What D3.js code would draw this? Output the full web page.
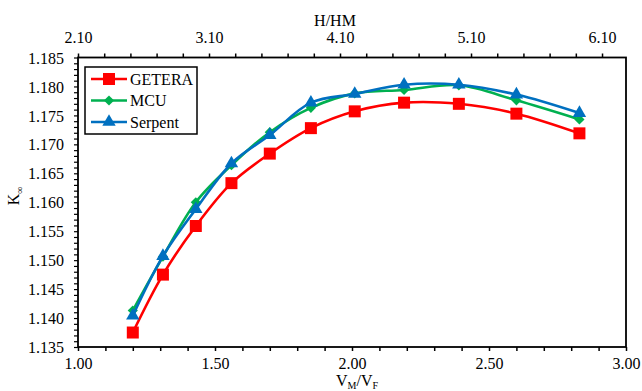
<!DOCTYPE html>
<html>
<head>
<meta charset="utf-8">
<script src="https://cdn.jsdelivr.net/npm/d3@7"></script>
<style>
  body { margin: 0; background: #fff; }
</style>
</head>
<body>
<svg id="chart" width="642" height="391"></svg>
<script>
// data
const vmvf = [1.20, 1.31, 1.43, 1.56, 1.70, 1.85, 2.01, 2.19, 2.39, 2.60, 2.83]
const getera = [1.1375, 1.1475, 1.1559, 1.1633, 1.1684, 1.1728, 1.1757, 1.1772, 1.1770, 1.1753, 1.1719]
const mcu = [1.1413, 1.1506, 1.1600, 1.1664, 1.1721, 1.1763, 1.1788, 1.1794, 1.1802, 1.1776, 1.1743]
const serpent = [1.1404, 1.1507, 1.1588, 1.1667, 1.1716, 1.1772, 1.1787, 1.1803, 1.1803, 1.1786, 1.1754]
const seriesNames = ['GETERA', 'MCU', 'Serpent']
const bottomTickLabels = ['1.00', '1.50', '2.00', '2.50', '3.00']
const topTickLabels = ['2.10', '3.10', '4.10', '5.10', '6.10']
const leftTickLabels = ['1.135', '1.140', '1.145', '1.150', '1.155', '1.160', '1.165', '1.170', '1.175', '1.180', '1.185']

const FONT = '"Liberation Serif", "Times New Roman", Times, serif'
const margin = {left: 78, top: 57.5, right: 16, bottom: 44}
const width = 642, height = 391
const svg = d3.select('#chart').style('font-family', FONT)

const x = d3.scaleLinear().domain([1.0, 3.0]).range([margin.left, width - margin.right])
const xTop = d3.scaleLinear().domain([2.10, 6.283]).range([margin.left, width - margin.right])
const y = d3.scaleLinear().domain([1.135, 1.185]).range([height - margin.bottom, margin.top])

function styleAxis(g, sw) {
    g.attr('font-family', FONT).attr('font-size', 16)
    g.select('.domain').remove()
    g.selectAll('.tick line').attr('stroke', '#000').attr('stroke-width', sw)
    g.selectAll('.tick text').attr('fill', '#000').style('font-family', FONT).style('font-size', '16px')
}

// bottom axis: minor every 0.1, labels every 0.5
const bottomTicks = d3.range(0, 21).map(i => 1 + i * 0.1)
svg.append('g')
    .attr('transform', 'translate(0,' + y.range()[0] + ')')
    .call(d3.axisBottom(x).tickValues(bottomTicks).tickSize(4).tickFormat(d => {
        const lbl = d.toFixed(2)
        return bottomTickLabels.includes(lbl) ? lbl : ''
    }))
    .call(g => styleAxis(g, 1.5))
    .call(g => g.selectAll('.tick text').attr('dy', '0.92em'))

// top axis: minor every 0.2, labels every 1.0
const topTicks = d3.range(0, 21).map(i => 2.1 + i * 0.2)
svg.append('g')
    .attr('transform', 'translate(0,' + margin.top + ')')
    .call(d3.axisTop(xTop).tickValues(topTicks).tickSize(4).tickFormat(d => {
        const lbl = d.toFixed(2)
        return topTickLabels.includes(lbl) ? lbl : ''
    }))
    .call(g => styleAxis(g, 1.5))
    .call(g => g.selectAll('.tick text').attr('dy', '-0.5em'))

// left axis: minor every 0.001, labels every 0.005
const leftTicks = d3.range(0, 51).map(i => 1.135 + i * 0.001)
svg.append('g')
    .attr('transform', 'translate(' + margin.left + ',0)')
    .call(d3.axisLeft(y).tickValues(leftTicks).tickSize(4).tickFormat(d => {
        const lbl = d.toFixed(3)
        return leftTickLabels.includes(lbl) ? lbl : ''
    }))
    .call(g => styleAxis(g, 1.2))
    .call(g => g.selectAll('.tick text').attr('x', -14).attr('dy', '0.35em'))

// frame
svg.append('rect')
    .attr('x', margin.left)
    .attr('y', margin.top)
    .attr('width', x.range()[1] - x.range()[0])
    .attr('height', y.range()[0] - y.range()[1])
    .attr('fill', 'none')
    .attr('stroke', '#000')
    .attr('stroke-width', 1.8)

// axis titles
svg.append('text')
    .attr('x', 357).attr('y', 386)
    .attr('text-anchor', 'middle')
    .style('font-size', '16px')
    .call(t => {
        t.append('tspan').text('V')
        t.append('tspan').text('M').attr('dy', 3).style('font-size', '10px')
        t.append('tspan').text('/V').attr('dy', -3)
        t.append('tspan').text('F').attr('dy', 3).style('font-size', '10px')
    })

svg.append('text')
    .attr('x', 335).attr('y', 26)
    .attr('text-anchor', 'middle')
    .style('font-size', '16px')
    .text('H/HM')

svg.append('text')
    .attr('transform', 'translate(19,196) rotate(-90)')
    .attr('text-anchor', 'middle')
    .style('font-size', '16px')
    .call(t => {
        t.append('tspan').text('K')
        t.append('tspan').text('∞').attr('dy', 4).style('font-size', '10px')
    })

const series = [
    {name: seriesNames[0], values: getera, color: '#FF0000', symbol: d3.symbolSquare, size: 144, rotate: 0},
    {name: seriesNames[1], values: mcu, color: '#00B050', symbol: d3.symbolSquare, size: 52, rotate: 45},
    {name: seriesNames[2], values: serpent, color: '#0070C0', symbol: d3.symbolTriangle, size: 78, rotate: 0}
]

const line = d3.line()
    .x(d => x(d[0]))
    .y(d => y(d[1]))
    .curve(d3.curveCatmullRom.alpha(0.5))

series.forEach(s => {
    const pts = vmvf.map((v, i) => [v, s.values[i]])
    svg.append('path')
        .datum(pts)
        .attr('d', line)
        .attr('fill', 'none')
        .attr('stroke', s.color)
        .attr('stroke-width', 2.6)

    svg.selectAll(null)
        .data(pts)
        .enter()
        .append('path')
        .attr('d', d3.symbol().type(s.symbol).size(s.size))
        .attr('transform', d => 'translate(' + x(d[0]) + ',' + y(d[1]) + ') rotate(' + s.rotate + ')')
        .attr('fill', s.color)
})

// legend
const legend = svg.append('g').attr('transform', 'translate(85,67)')
legend.append('rect')
    .attr('width', 112).attr('height', 67)
    .attr('fill', '#fff')
    .attr('stroke', '#000')
    .attr('stroke-width', 1.5)

series.forEach((s, i) => {
    const row = legend.append('g').attr('transform', 'translate(0,' + (12 + i * 21.5) + ')')
    row.append('line')
        .attr('x1', 6).attr('x2', 42)
        .attr('stroke', s.color).attr('stroke-width', 2.6)
    row.append('path')
        .attr('d', d3.symbol().type(s.symbol).size(s.size))
        .attr('transform', 'translate(24,0) rotate(' + s.rotate + ')')
        .attr('fill', s.color)
    row.append('text')
        .attr('x', 45).attr('dy', '0.35em')
        .style('font-size', '16px')
        .text(s.name)
})
</script>
</body>
</html>
